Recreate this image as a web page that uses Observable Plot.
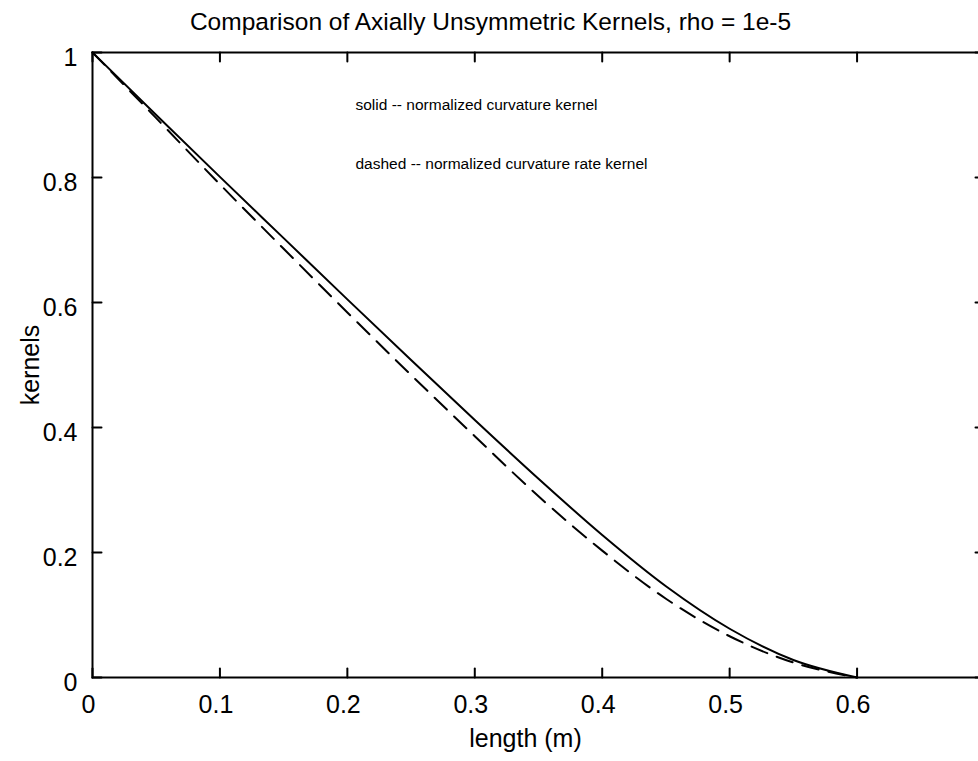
<!DOCTYPE html>
<html>
<head>
<meta charset="utf-8">
<script src="https://cdn.jsdelivr.net/npm/d3@7"></script>
<script src="https://cdn.jsdelivr.net/npm/@observablehq/plot@0.6"></script>
<style>
  html, body { margin: 0; padding: 0; background: #fff; overflow: hidden; }
</style>
</head>
<body>
<div id="chart"></div>
<script>
// ---- data ----
const lengthM      = [0, 0.05, 0.10, 0.15, 0.20, 0.25, 0.30, 0.35, 0.40, 0.45, 0.50, 0.55, 0.60];
const solidKernel  = [1, 0.900, 0.801, 0.703, 0.605, 0.508, 0.412, 0.318, 0.228, 0.146, 0.078, 0.028, 0];
const dashedKernel = [1, 0.895, 0.789, 0.686, 0.584, 0.484, 0.386, 0.290, 0.203, 0.126, 0.066, 0.024, 0];

const xTicks = [0, 0.1, 0.2, 0.3, 0.4, 0.5, 0.6];
const yTicks = [0, 0.2, 0.4, 0.6, 0.8, 1];

const titleText = "Comparison of Axially Unsymmetric Kernels, rho = 1e-5";
const xLabel = "length (m)";
const yLabel = "kernels";
const notes = ["solid -- normalized curvature kernel", "dashed -- normalized curvature rate kernel"];

const solidData = lengthM.map((x, i) => ({x, y: solidKernel[i]}));
const dashedData = lengthM.map((x, i) => ({x, y: dashedKernel[i]}));

const font = "'Liberation Sans', Arial, Helvetica, sans-serif";
const W = 978, H = 761, ML = 92, MR = -6, MT = 52, MB = 84;
const tickLen = 9;

// straight tick shape for Plot.vector
const tickShape = {draw(context, l) { context.moveTo(0, 0); context.lineTo(0, -l); }};

const chart = Plot.plot({
  width: W,
  height: H,
  marginLeft: ML,
  marginRight: MR,
  marginTop: MT,
  marginBottom: MB,
  style: {fontFamily: font, background: "#fff", color: "#000", maxWidth: "none"},
  x: {domain: [0, 0.7], axis: null},
  y: {domain: [0, 1], axis: null},
  marks: [
    // frame and inward tick marks
    Plot.frame({stroke: "#000", strokeWidth: 2}),
    Plot.vector(xTicks, {x: d => d, frameAnchor: "bottom", length: tickLen, rotate: 0, anchor: "start", shape: tickShape, stroke: "#000", strokeWidth: 2}),
    Plot.vector(xTicks, {x: d => d, frameAnchor: "top", length: tickLen, rotate: 180, anchor: "start", shape: tickShape, stroke: "#000", strokeWidth: 2}),
    Plot.vector(yTicks, {y: d => d, frameAnchor: "left", length: tickLen, rotate: 90, anchor: "start", shape: tickShape, stroke: "#000", strokeWidth: 2}),
    Plot.vector(yTicks, {y: d => d, frameAnchor: "right", length: tickLen, rotate: -90, anchor: "start", shape: tickShape, stroke: "#000", strokeWidth: 2}),
    // tick labels
    Plot.axisX(xTicks, {anchor: "bottom", tickSize: 0, tickPadding: 18, fontSize: 25, dx: -4, tickFormat: d => String(d), label: null}),
    Plot.axisY(yTicks, {anchor: "left", tickSize: 0, tickPadding: 15, fontSize: 25, dy: 5, tickFormat: d => String(d), label: null}),
    // curves
    Plot.line(solidData, {x: "x", y: "y", curve: "monotone-x", stroke: "#000", strokeWidth: 2}),
    Plot.line(dashedData, {x: "x", y: "y", curve: "monotone-x", stroke: "#000", strokeWidth: 2, strokeDasharray: "17,10"}),
    // annotations
    Plot.text([notes[0]], {frameAnchor: "top-left", dx: 263, dy: 46, text: d => d, fontSize: 15.5, textAnchor: "start"}),
    Plot.text([notes[1]], {frameAnchor: "top-left", dx: 263, dy: 105, text: d => d, fontSize: 15.5, textAnchor: "start"}),
    // title and axis labels
    Plot.text([titleText], {frameAnchor: "top", dx: -48, dy: -40, text: d => d, fontSize: 24.5}),
    Plot.text([xLabel], {frameAnchor: "bottom", dx: -13, dy: 69, text: d => d, fontSize: 25}),
    Plot.text([yLabel], {frameAnchor: "left", dx: -62, text: d => d, fontSize: 25, rotate: -90, textAnchor: "middle", lineAnchor: "middle"})
  ]
});
document.getElementById("chart").appendChild(chart);
</script>
</body>
</html>
